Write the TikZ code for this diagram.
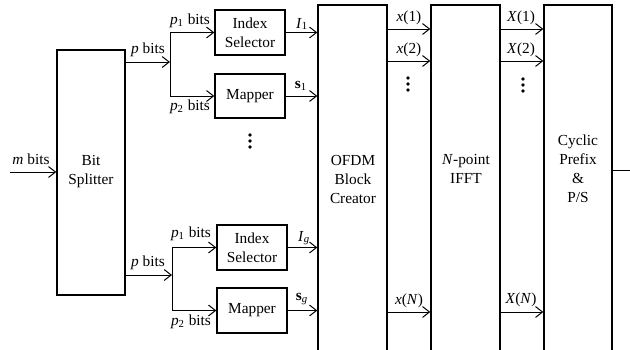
\documentclass[tikz,border=0pt]{standalone}
\usepackage{fontspec}
\setmainfont{Liberation Serif}
\usetikzlibrary{arrows.meta}
\begin{document}
\begin{tikzpicture}[x=0.6pt,y=-0.6pt,
  blk/.style={draw,line width=0.8pt,inner sep=0pt},
  txt/.style={font=\fontsize{9.2}{11.4}\selectfont,align=center,inner sep=0pt},
  lab/.style={font=\fontsize{9.2}{11}\selectfont,inner sep=0pt},
  arr/.style={line width=0.6pt,-{Straight Barb[length=4.2pt,width=6.5pt]}},
  ln/.style={line width=0.6pt},
  vdot/.style={circle,fill,inner sep=0pt,minimum size=2.2pt}]
\clip (0,0) rectangle (630,349);
% Bit splitter
\node[blk,minimum width=40.8pt,minimum height=147pt] (split) at (91,172.5) {};
\node[txt] (splitT) at (91,172) {Bit\\Splitter};
\coordinate (min) at (10,172);
\draw[arr] (min) -- (min -| split.west);
\node[lab] (mlab) at (31,159) {\textit{m} bits};
% tall boxes
\node[blk,minimum width=41.4pt,minimum height=213pt] (ofdm) at (352.5,182.5) {};
\node[blk,minimum width=41.4pt,minimum height=213pt] (ifft) at (465.5,182.5) {};
\node[blk,minimum width=40.8pt,minimum height=213pt] (cp) at (578,182.5) {};
\node[txt] (ofdmT) at (353,179) {OFDM\\Block\\Creator};
\node[txt] (ifftT) at (466,169) {\textit{N}-point\\IFFT};
\node[txt] (cpT) at (578,169) {Cyclic\\Prefix\\\&\\P/S};
% upper group
\node[blk,txt,minimum width=42pt,minimum height=27pt] (is1) at (250,32.5) {Index\\Selector};
\node[blk,txt,minimum width=42pt,minimum height=26.4pt] (mp1) at (250,96) {Mapper};
\coordinate (j1) at (170,62);
\draw[arr] (split.east |- j1) -- (j1);
\draw[arr] (j1 |- mp1.west) -- (j1 |- is1.west) -- (is1.west);
\draw[arr] (j1 |- mp1.west) -- (mp1.west);
\node[lab] (pb1) at (148,50) {\textit{p} bits};
\node[lab] (p1a) at (190,21) {\textit{p}\textsubscript{1} bits};
\node[lab] (p2a) at (190,107) {\textit{p}\textsubscript{2} bits};
\draw[arr] (is1.east) -- (is1.east -| ofdm.west);
\draw[arr] (mp1.east) -- (mp1.east -| ofdm.west);
\node[lab] (I1) at (302,24) {\textit{I}\textsubscript{1}};
\node[lab] (s1) at (301,86) {\textbf{s}\textsubscript{1}};
% lower group
\node[blk,txt,minimum width=42pt,minimum height=27pt] (is2) at (252,247.5) {Index\\Selector};
\node[blk,txt,minimum width=42pt,minimum height=27pt] (mp2) at (252,310.5) {Mapper};
\coordinate (j2) at (172,275);
\draw[arr] (split.east |- j2) -- (j2);
\draw[arr] (j2 |- mp2.west) -- (j2 |- is2.west) -- (is2.west);
\draw[arr] (j2 |- mp2.west) -- (mp2.west);
\node[lab] (pb2) at (148,263) {\textit{p} bits};
\node[lab] (p1b) at (191,234) {\textit{p}\textsubscript{1} bits};
\node[lab] (p2b) at (191,322) {\textit{p}\textsubscript{2} bits};
\draw[arr] (is2.east) -- (is2.east -| ofdm.west);
\draw[arr] (mp2.east) -- (mp2.east -| ofdm.west);
\node[lab] (Ig) at (304,238) {\textit{I}\textsubscript{\textit{g}}};
\node[lab] (sg) at (302,299) {\textbf{s}\textsubscript{\textit{g}}};
% vertical dots
\node[vdot] (d1a) at (250,135) {};
\node[vdot] (d1b) at (250,141) {};
\node[vdot] (d1c) at (250,147) {};
\node[vdot] (d2a) at (408,78) {};
\node[vdot] (d2b) at (408,84) {};
\node[vdot] (d2c) at (408,90) {};
\node[vdot] (d3a) at (523,79) {};
\node[vdot] (d3b) at (523,85) {};
\node[vdot] (d3c) at (523,91) {};
% OFDM -> IFFT
\coordinate (r1) at (0,29);
\coordinate (r2) at (0,61);
\coordinate (rN) at (0,312);
\draw[arr] (ofdm.east |- r1) -- (ifft.west |- r1);
\draw[arr] (ofdm.east |- r2) -- (ifft.west |- r2);
\draw[arr] (ofdm.east |- rN) -- (ifft.west |- rN);
\node[lab] (x1) at (409,18) {\textit{x}(1)};
\node[lab] (x2) at (409,50) {\textit{x}(2)};
\node[lab] (xN) at (409,301) {\textit{x}(\textit{N})};
% IFFT -> CP
\draw[arr] (ifft.east |- r1) -- (cp.west |- r1);
\draw[arr] (ifft.east |- r2) -- (cp.west |- r2);
\draw[arr] (ifft.east |- rN) -- (cp.west |- rN);
\node[lab] (X1) at (521,18) {\textit{X}(1)};
\node[lab] (X2) at (521,50) {\textit{X}(2)};
\node[lab] (XN) at (521,300) {\textit{X}(\textit{N})};
% output
\coordinate (outE) at (640,170);
\draw[arr] (cp.east |- outE) -- (outE);
\end{tikzpicture}
\end{document}
